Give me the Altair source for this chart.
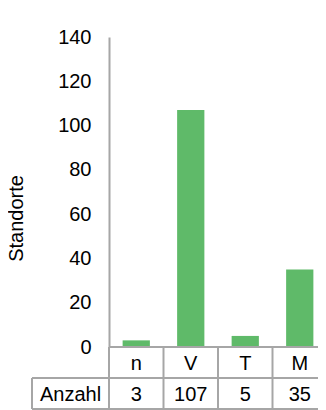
import altair as alt
import pandas as pd

categories = ["n", "V", "T", "M"]
counts = [3, 107, 5, 35]
row_label = "Anzahl"
y_ticks = [0, 20, 40, 60, 80, 100, 120, 140]
y_title = "Standorte"

df = pd.DataFrame({"cat": categories, "count": counts})

W_VIS = 209          # visible plot width (page is only 326 px wide)
W = 218              # full width of the four table columns
H = 310
ROW = 31
LEFT_CELL = 77
GRAY = "#a6a6a6"
GREEN = "#5fba69"
FONT = "Liberation Sans"
FS = 20

xscale = alt.Scale(domain=categories, paddingInner=0, paddingOuter=0, range=[0, W])
x_enc = alt.X("cat:N", sort=categories, scale=xscale, axis=None)

bars = alt.Chart(df).mark_bar(color=GREEN, width=alt.RelativeBandSize(0.5)).encode(
    x=x_enc,
    y=alt.Y("count:Q", scale=alt.Scale(domain=[0, 140]),
            axis=alt.Axis(values=y_ticks, title=y_title, ticks=False, grid=False,
                          domainColor=GRAY, domainWidth=2,
                          labelPadding=18, labelFontSize=FS, labelColor="#000", labelFont=FONT,
                          titleFontSize=FS, titleFontWeight="normal", titleColor="#000",
                          titleFont=FONT, titleAngle=-90, titleBaseline="middle",
                          titleX=-93, titleY=181)),
)

# vertical cell borders at the band starts
vlines = alt.Chart(df).mark_rule(color=GRAY, strokeWidth=2).encode(
    x=alt.X("cat:N", sort=categories, bandPosition=0, scale=xscale, axis=None),
    y=alt.value(H), y2=alt.value(H + 2 * ROW),
)
vline_left = alt.Chart(df).mark_rule(color=GRAY, strokeWidth=2).encode(
    x=alt.value(-LEFT_CELL), y=alt.value(H + ROW), y2=alt.value(H + 2 * ROW))

h0 = alt.Chart(df).mark_rule(color=GRAY, strokeWidth=2).encode(
    x=alt.value(0), x2=alt.value(W), y=alt.value(H))
h1 = alt.Chart(df).mark_rule(color=GRAY, strokeWidth=2).encode(
    x=alt.value(-LEFT_CELL), x2=alt.value(W), y=alt.value(H + ROW))
h2 = alt.Chart(df).mark_rule(color=GRAY, strokeWidth=2).encode(
    x=alt.value(-LEFT_CELL), x2=alt.value(W), y=alt.value(H + 2 * ROW))

cat_text = alt.Chart(df).mark_text(fontSize=FS, font=FONT, color="#000", baseline="middle").encode(
    x=x_enc, y=alt.value(H + ROW / 2 + 1), text="cat:N")
cnt_text = alt.Chart(df).mark_text(fontSize=FS, font=FONT, color="#000", baseline="middle").encode(
    x=x_enc, y=alt.value(H + 1.5 * ROW + 1), text="count:Q")
row_text = alt.Chart(pd.DataFrame({"label": [row_label]})).mark_text(
    fontSize=FS, font=FONT, color="#000", baseline="middle").encode(
    x=alt.value(-LEFT_CELL / 2), y=alt.value(H + 1.5 * ROW + 1), text="label:N")

chart = alt.layer(bars, vlines, vline_left, h0, h1, h2,
                  cat_text, cnt_text, row_text).properties(
    width=W_VIS, height=H,
    autosize=alt.AutoSizeParams(type="none"),
    padding={"left": 101, "top": 29, "right": 0, "bottom": 63},
).configure(font=FONT, view=alt.ViewConfig(stroke=None))

chart.save("out.html", embed_options={"renderer": "svg", "actions": False})
